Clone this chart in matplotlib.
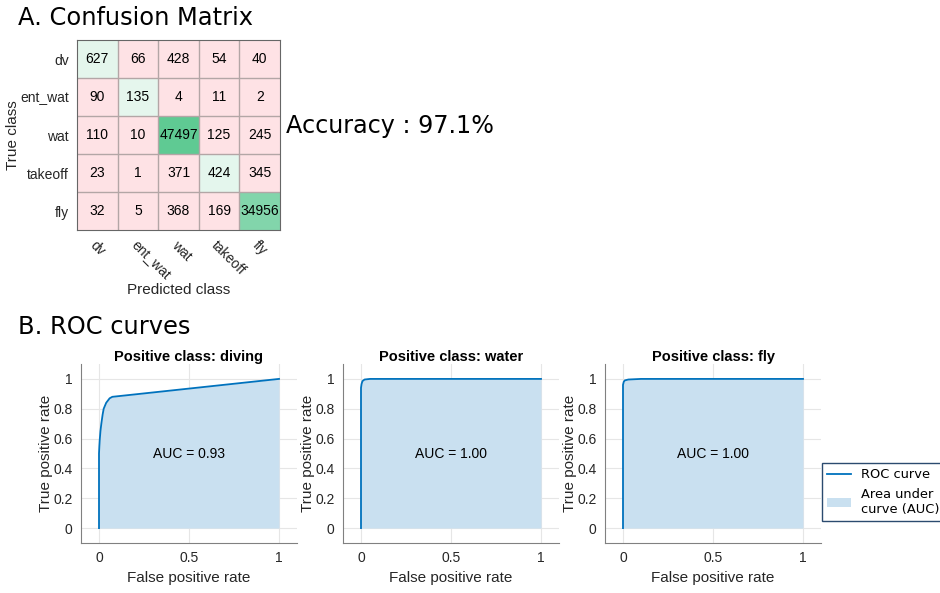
import numpy as np
import matplotlib
matplotlib.use("Agg")
import matplotlib.pyplot as plt
from matplotlib.lines import Line2D
from matplotlib.patches import Patch

# confusion matrix data
classes = ["dv", "ent_wat", "wat", "takeoff", "fly"]
cm = np.array([
    [627, 66, 428, 54, 40],
    [90, 135, 4, 11, 2],
    [110, 10, 47497, 125, 245],
    [23, 1, 371, 424, 345],
    [32, 5, 368, 169, 34956],
])
accuracy = 97.1

# ROC curves
roc_titles = ["Positive class: diving", "Positive class: water", "Positive class: fly"]
auc_values = [0.93, 1.00, 1.00]
fpr_diving = [0, 0, 0.002, 0.004, 0.008, 0.013, 0.02, 0.026, 0.04, 0.059, 0.074, 1.0]
tpr_diving = [0, 0.5, 0.55, 0.59, 0.65, 0.70, 0.76, 0.80, 0.84, 0.87, 0.88, 1.0]
fpr_water = [0, 0, 0.003, 0.008, 0.02, 0.05, 1.0]
tpr_water = [0, 0.94, 0.965, 0.985, 0.996, 1.0, 1.0]
fpr_fly = [0, 0, 0.004, 0.01, 0.03, 0.1, 1.0]
tpr_fly = [0, 0.96, 0.98, 0.99, 0.996, 1.0, 1.0]
roc_fpr = [fpr_diving, fpr_water, fpr_fly]
roc_tpr = [tpr_diving, tpr_water, tpr_fly]

line_col = "#0072bd"
fill_col = "#c9e0f0"
arial = ["Liberation Sans", "DejaVu Sans"]

fig = plt.figure(figsize=(9.4, 5.93), dpi=100)

# ---- A. confusion matrix
ax = fig.add_axes([77/940, 1-230/593, 203/940, 190/593])
frac = cm / cm.max()
diag_lo = np.array([230, 247, 238]) / 255
diag_hi = np.array([95, 202, 147]) / 255
off_lo = np.array([255, 227, 230]) / 255
off_hi = np.array([240, 120, 120]) / 255
rgb = np.zeros((5, 5, 3))
for i in range(5):
    for j in range(5):
        if i == j:
            rgb[i, j] = diag_lo + (diag_hi - diag_lo) * frac[i, j]
        else:
            rgb[i, j] = off_lo + (off_hi - off_lo) * frac[i, j]
ax.imshow(rgb, aspect="auto", extent=(-0.5, 4.5, 4.5, -0.5))
for k in range(1, 5):
    ax.axhline(k - 0.5, color="#b3a6a6", lw=1)
    ax.axvline(k - 0.5, color="#b3a6a6", lw=1)
for i in range(5):
    for j in range(5):
        ax.text(j, i, str(cm[i, j]), ha="center", va="center", fontsize=10, family=arial)
ax.set_xticks(range(5))
ax.set_yticks(range(5))
ax.set_xticklabels(classes, rotation=-45, ha="left", rotation_mode="anchor", family=arial, fontsize=10)
ax.set_yticklabels(classes, family=arial, fontsize=10)
ax.tick_params(length=0, pad=6, colors="#262626")
ax.set_xlabel("Predicted class", family=arial, fontsize=11, color="#262626", labelpad=0)
ax.set_ylabel("True class", family=arial, fontsize=11, color="#262626", labelpad=0)
for s in ax.spines.values():
    s.set_color("#666666")

fig.text(18/940, 1-18/593, "A. Confusion Matrix", fontsize=17.4, va="center", ha="left")
fig.text(286/940, 1-126/593, "Accuracy : %.1f%%" % accuracy, fontsize=17.2, va="center", ha="left")
fig.text(18/940, 1-327/593, "B. ROC curves", fontsize=17.4, va="center", ha="left")

# ---- B. ROC curves
lefts = [81, 343, 605]
for k in range(3):
    a = fig.add_axes([lefts[k]/940, 50/593, 216/940, 179/593])
    a.fill_between(roc_fpr[k], 0, roc_tpr[k], color=fill_col, lw=0)
    a.plot(roc_fpr[k], roc_tpr[k], color=line_col, lw=1.3)
    a.text(0.5, 0.5, "AUC = %.2f" % auc_values[k], ha="center", va="center", fontsize=10, family=arial)
    a.set_xlim(-0.1, 1.1)
    a.set_ylim(-0.1, 1.1)
    a.set_xticks([0, 0.5, 1])
    a.set_xticklabels(["0", "0.5", "1"])
    a.set_yticks([0, 0.2, 0.4, 0.6, 0.8, 1])
    a.set_yticklabels(["0", "0.2", "0.4", "0.6", "0.8", "1"])
    a.grid(True, color="#e6e6e6", lw=0.8)
    a.set_axisbelow(True)
    for lab in a.get_xticklabels() + a.get_yticklabels():
        lab.set_family(arial)
        lab.set_fontsize(10)
    a.tick_params(length=0, pad=6, colors="#262626")
    a.spines["top"].set_visible(False)
    a.spines["right"].set_visible(False)
    a.spines["left"].set_color("#808080")
    a.spines["bottom"].set_color("#808080")
    a.set_title(roc_titles[k], fontsize=10.5, fontweight="bold", family=arial, pad=2)
    a.set_xlabel("False positive rate", fontsize=11, family=arial, color="#262626", labelpad=4)
    a.set_ylabel("True positive rate", fontsize=11, family=arial, color="#262626", labelpad=0)

handles = [Line2D([], [], color=line_col, lw=1.3), Patch(facecolor=fill_col, edgecolor="none")]
leg = fig.legend(handles, ["ROC curve", "Area under\ncurve (AUC)"], loc="upper left",
                 bbox_to_anchor=(822/940, 1-463/593), fontsize=9.4, fancybox=False,
                 handlelength=1.8, borderpad=0.4, borderaxespad=0, framealpha=1)
leg.get_frame().set_edgecolor("#2b4b6f")

fig.savefig("out.png", dpi=100)
